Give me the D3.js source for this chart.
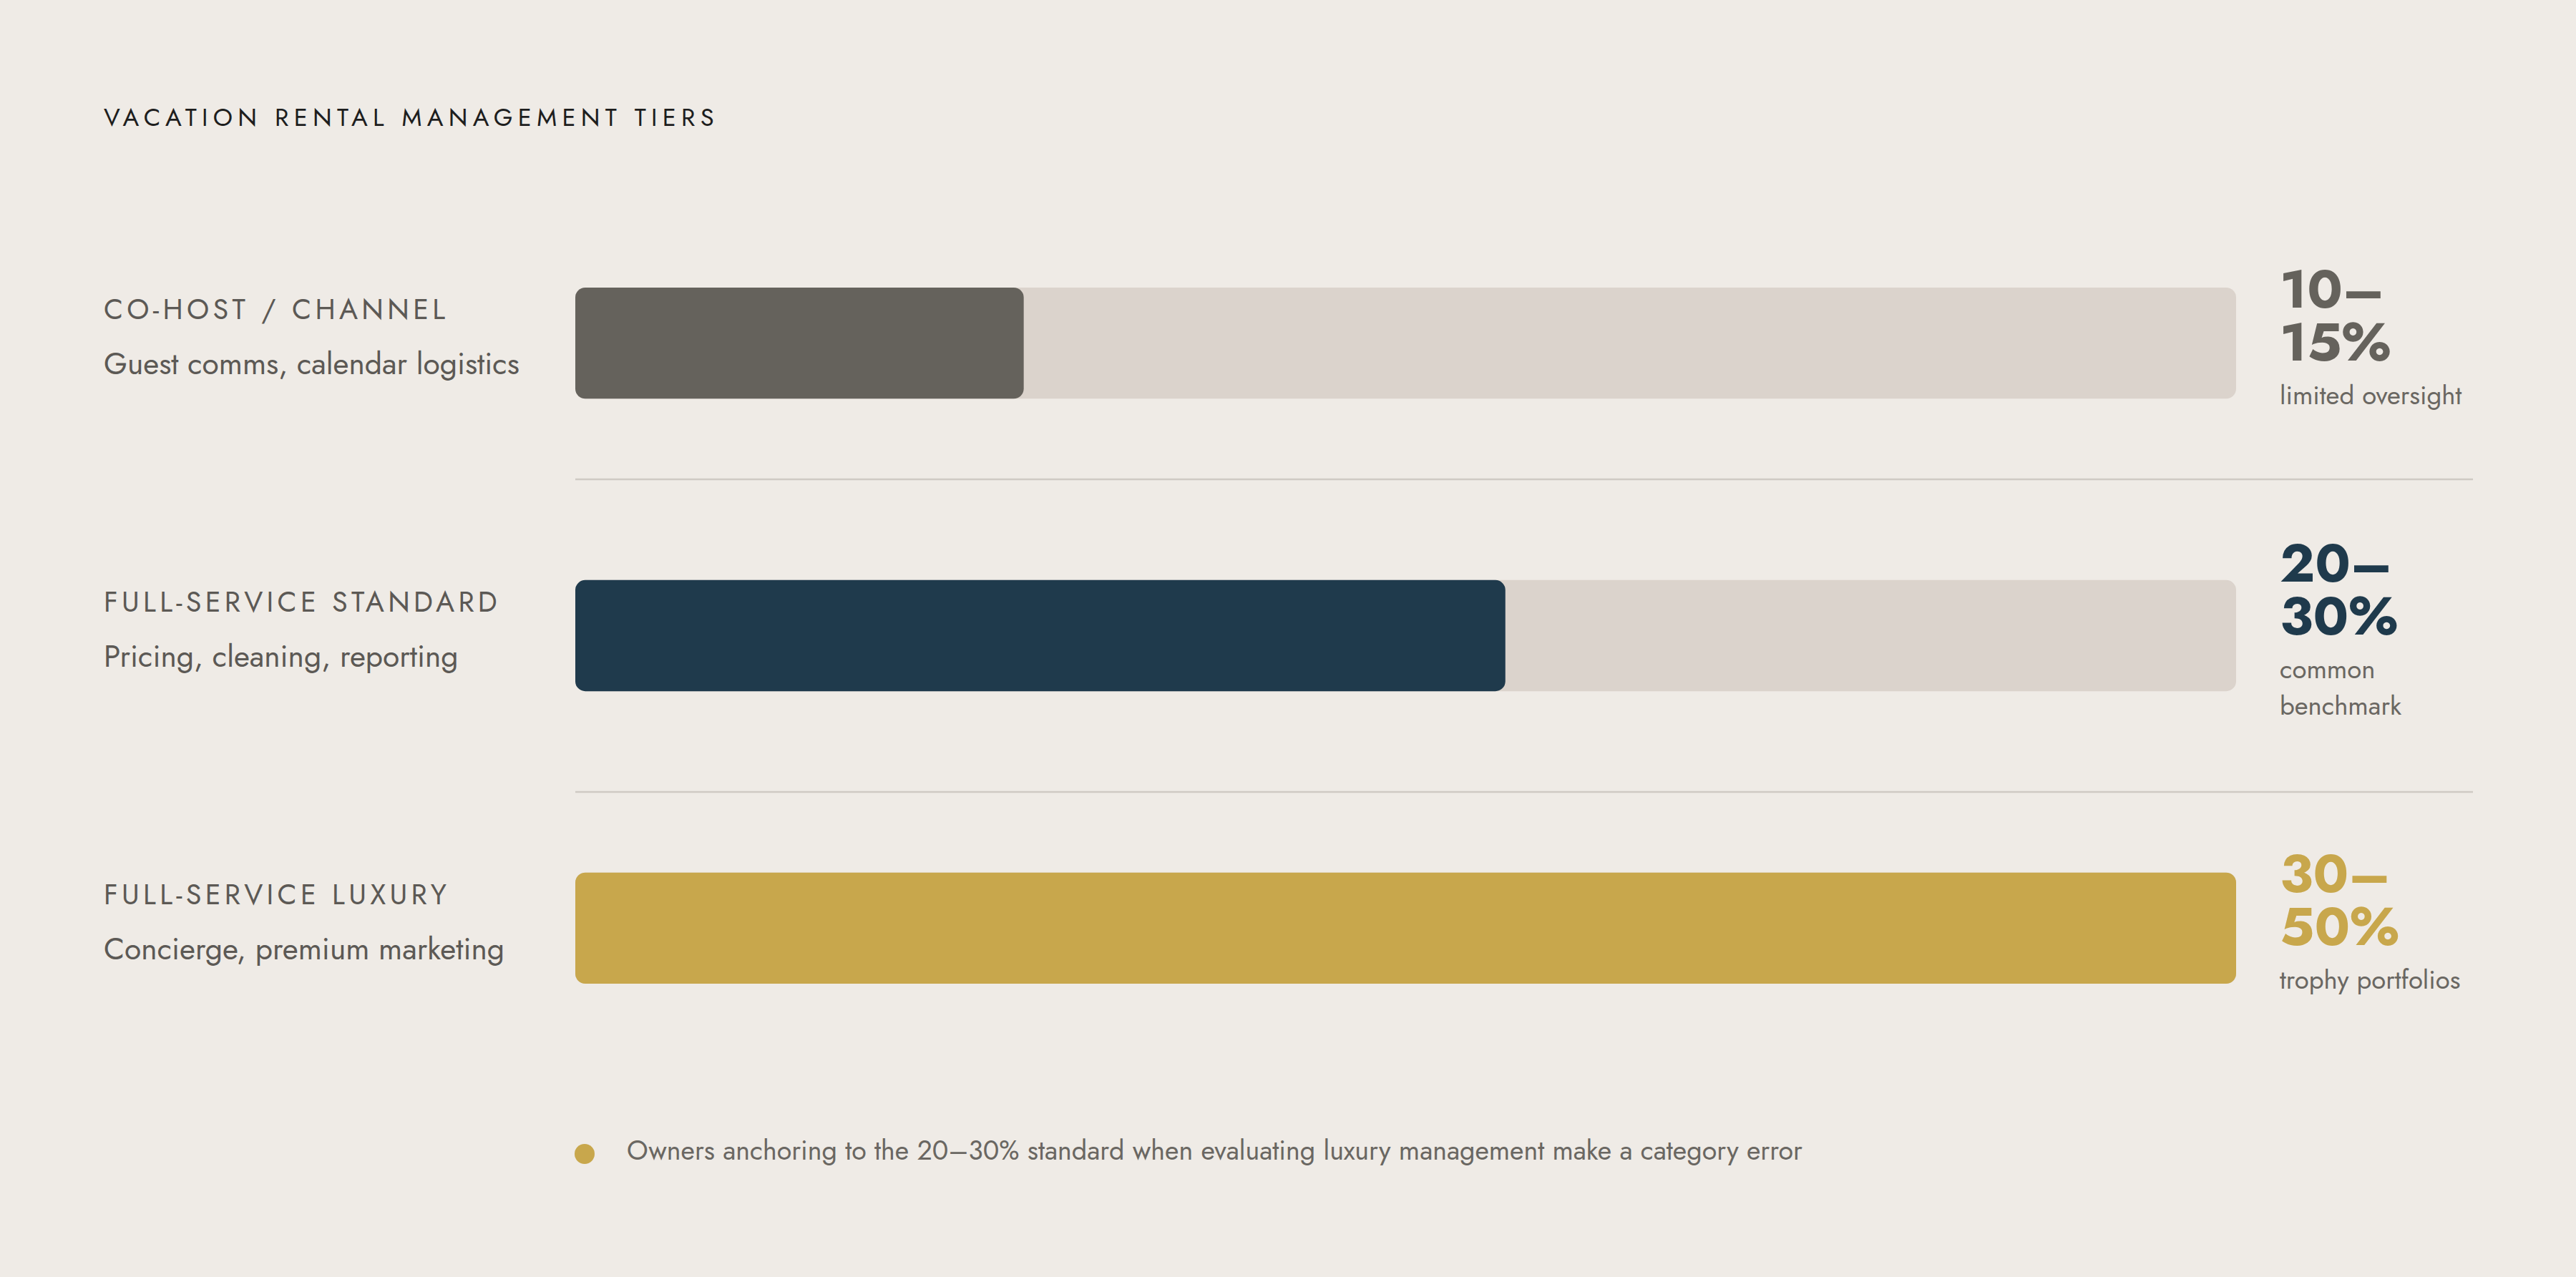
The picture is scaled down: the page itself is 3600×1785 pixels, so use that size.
<!DOCTYPE html>
<html><head><meta charset="utf-8">
<script src="https://cdn.jsdelivr.net/npm/d3@7"></script>
<style>html,body{margin:0;padding:0;background:#EFEBE6}</style>
</head><body><svg id="c" width="3600" height="1785"></svg>
<script>
const tiers = ["CO-HOST / CHANNEL","FULL-SERVICE STANDARD","FULL-SERVICE LUXURY"];
const descriptions = ["Guest comms, calendar logistics","Pricing, cleaning, reporting","Concierge, premium marketing"];
const fillValues = [13.5, 28, 50];
const rangeTop = ["10–","20–","30–"];
const rangeBottom = ["15%","30%","50%"];
const notes = [["limited oversight"],["common","benchmark"],["trophy portfolios"]];
const colors = ["#65625C","#1F3A4C","#C8A74C"];
const maxValue = 50;
const footnote = "Owners anchoring to the 20–30% standard when evaluating luxury management make a category error";

const svg = d3.select("#c");
const font = "Jost, 'Open Sans', Lato, sans-serif";
svg.append("rect").attr("width",3600).attr("height",1785).attr("fill","#EFEBE6");
svg.append("text").attr("x",145).attr("y",176).text("VACATION RENTAL MANAGEMENT TIERS")
  .attr("font-family",font).attr("font-size",34.5).attr("letter-spacing",7.3).attr("fill","#1e1e1e");

const x = d3.scaleLinear().domain([0,maxValue]).range([804,3125]);
const y = d3.scaleBand().domain(tiers).range([402,1375]).paddingInner(0.62);
const bh = y.bandwidth();
const dividerY = [670, 1107];

tiers.forEach((t,i)=>{
  const y0 = y(t);
  const g = svg.append("g");
  g.append("rect").attr("x",x(0)).attr("y",y0).attr("width",x(maxValue)-x(0)).attr("height",bh).attr("rx",14).attr("fill","#DBD3CC");
  g.append("rect").attr("x",x(0)).attr("y",y0).attr("width",x(fillValues[i])-x(0)).attr("height",bh).attr("rx",14).attr("fill",colors[i]);
  g.append("text").attr("x",145).attr("y",y0+44).text(t).attr("font-family",font).attr("font-size",39.5).attr("letter-spacing",5.3).attr("fill","#5c5955");
  g.append("text").attr("x",145).attr("y",y0+121).text(descriptions[i]).attr("font-family",font).attr("font-size",42.5).attr("fill","#5c5955");
  // block: cap-top to note bottom, centered on bar
  const blockH = 198 + (notes[i].length-1)*51;
  const top = y0 + bh/2 - blockH/2 - 5;
  g.append("text").attr("x",3186).attr("y",top+54).text(rangeTop[i]).attr("font-family",font).attr("font-weight",700).attr("font-size",75).attr("fill",colors[i]);
  g.append("text").attr("x",3186).attr("y",top+128).text(rangeBottom[i]).attr("font-family",font).attr("font-weight",700).attr("font-size",75).attr("fill",colors[i]);
  notes[i].forEach((n,j)=>g.append("text").attr("x",3186).attr("y",top+189+j*51).text(n).attr("font-family",font).attr("font-size",36.5).attr("fill","#6a6762"));
  if(i<tiers.length-1){
    g.append("line").attr("x1",804).attr("x2",3456).attr("y1",dividerY[i]).attr("y2",dividerY[i]).attr("stroke","#cfcac4").attr("stroke-width",2.5);
  }
});
svg.append("circle").attr("cx",817).attr("cy",1613).attr("r",14).attr("fill","#C8A74C");
svg.append("text").attr("x",876).attr("y",1621).text(footnote).attr("font-family",font).attr("font-size",37.6).attr("fill","#6a6762");
</script></body></html>
